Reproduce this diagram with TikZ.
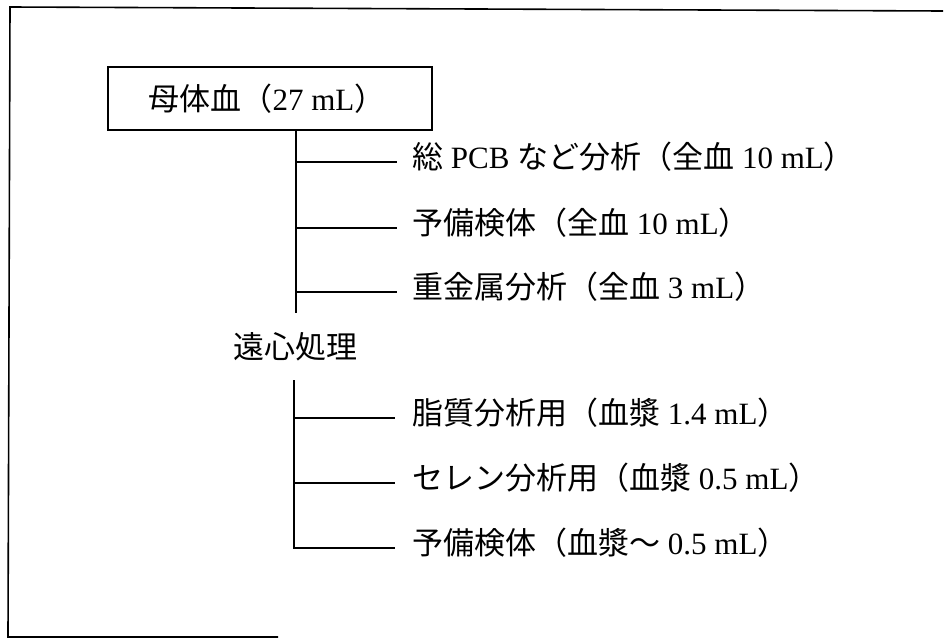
\documentclass[tikz,border=0pt]{standalone}
\usepackage{fontspec}
\setmainfont{Liberation Serif}
\newfontfamily\cjk{Noto Sans CJK JP}
\newcommand\J[1]{{\cjk\fontsize{31}{36}\selectfont #1}}
\begin{document}
\begin{tikzpicture}[x=1pt,y=-1pt,
  txt/.style={font=\fontsize{31}{36}\selectfont, inner sep=0pt},
  lbl/.style={txt, anchor=west},
  frameline/.style={line width=1.6pt, line join=miter},
  boxstyle/.style={draw, line width=1.4pt, minimum width=324pt, minimum height=63pt},
  conn/.style={line width=1.1pt}]
\useasboundingbox (0,0) rectangle (947,640);
% outer frame (partial, as scanned)
\draw[frameline] (943,11) -- (10,7) -- (8,637) -- (278,637);
% main box
\node[boxstyle, txt] (mb) at (270,98.5) {\hspace*{-6pt}\J{母体血（}27 mL\J{）}};
% upper trunk
\coordinate (t1) at (296,313);
\coordinate (e1) at (397,162);
\coordinate (e2) at (397,228);
\coordinate (e3) at (397,292);
\draw[conn] (mb.south -| t1) -- (t1);
\draw[conn] (t1 |- e1) -- (e1);
\draw[conn] (t1 |- e2) -- (e2);
\draw[conn] (t1 |- e3) -- (e3);
\node[lbl] (r1) at (412,157) {\J{総} PCB \J{など分析（全血} 10 mL\J{）}};
\node[lbl] (r2) at (412,223) {\J{予備検体（全血} 10 mL\J{）}};
\node[lbl] (r3) at (412,287) {\J{重金属分析（全血} 3 mL\J{）}};
% centrifuge
\node[txt] (cf) at (295,347) {\J{遠心処理}};
% lower trunk
\coordinate (t2) at (294,380);
\coordinate (e4) at (395,418);
\coordinate (e5) at (395,483);
\coordinate (e6) at (395,548);
\draw[conn] (t2) -- (t2 |- e6) -- (e6);
\draw[conn] (t2 |- e4) -- (e4);
\draw[conn] (t2 |- e5) -- (e5);
\node[lbl] (r4) at (412,413) {\J{脂質分析用（血漿} 1.4 mL\J{）}};
\node[lbl] (r5) at (412,478) {\J{セレン分析用（血漿} 0.5 mL\J{）}};
\node[lbl] (r6) at (412,543) {\J{予備検体（血漿～} 0.5 mL\J{）}};
\end{tikzpicture}
\end{document}
